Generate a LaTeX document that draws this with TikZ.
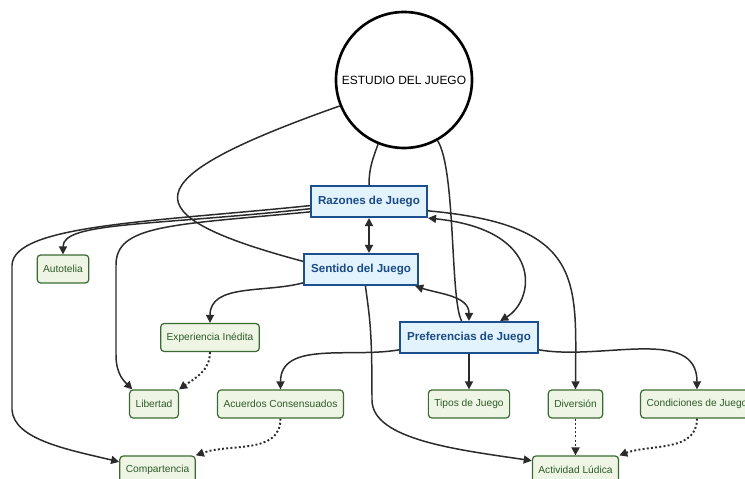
\documentclass[tikz,border=0pt]{standalone}
\usepackage{fontspec}
\setmainfont{Liberation Sans}
\usepackage{tikz}
\usetikzlibrary{arrows.meta,shapes}

\definecolor{razonBorde}{HTML}{1B4F8E}
\definecolor{razonFondo}{HTML}{E2F3FD}
\definecolor{razonTexto}{HTML}{1A4A88}
\definecolor{hojaBorde}{HTML}{3B6B32}
\definecolor{hojaFondo}{HTML}{EEF5E5}
\definecolor{hojaTexto}{HTML}{2E5B28}
\definecolor{flecha}{HTML}{2B2B2B}

\begin{document}
\begin{tikzpicture}[x=0.02cm,y=0.02cm,>={Triangle[length=4.6pt,width=4.6pt]},
                    line width=0.85pt,draw=flecha,
                    every node/.append style={font=\fontsize{5.8}{7}\selectfont}]
  \tikzstyle{raiz}=[circle,draw=black,fill=white,line width=1.5pt,minimum size=136*0.02cm,inner sep=0pt,
                    font=\fontsize{6.8}{8}\selectfont]
  \tikzstyle{clave}=[rectangle,draw=razonBorde,fill=razonFondo,text=razonTexto,line width=1.2pt,
                     font=\fontsize{6.6}{7.6}\selectfont\bfseries,minimum height=0.62cm,inner xsep=4pt]
  \tikzstyle{hoja}=[rectangle,rounded corners=2pt,draw=hojaBorde,fill=hojaFondo,text=hojaTexto,
                    line width=0.7pt,minimum height=0.56cm,inner xsep=3.4pt]
  \tikzstyle{punteada}=[dash pattern=on 1.1pt off 1.3pt,line width=1.1pt]

  \useasboundingbox (0,0) rectangle (745,-479);

  \node[raiz] (estudio) at (404,-80) {ESTUDIO DEL JUEGO};
  \node[clave] (razones)   at (369,-201.5) {Razones de Juego};
  \node[clave] (sentido)   at (361,-269.5) {Sentido del Juego};
  \node[clave] (prefer)    at (469,-337.5) {Preferencias de Juego};

  \node[hoja] (autotelia)   at (63,-269)    {Autotelia};
  \node[hoja] (experiencia) at (210,-337.5) {Experiencia Inédita};
  \node[hoja] (libertad)    at (154,-404)   {Libertad};
  \node[hoja] (acuerdos)    at (280.5,-404) {Acuerdos Consensuados};
  \node[hoja] (compart)     at (157.5,-470) {Compartencia};
  \node[hoja] (tipos)       at (469,-404)   {Tipos de Juego};
  \node[hoja] (diversion)   at (575.5,-404) {Diversión};
  \node[hoja] (condic)      at (697,-404)   {Condiciones de Juego};
  \node[hoja] (actividad)   at (575.5,-470) {Actividad Lúdica};

  % desde el estudio
  \draw (estudio.202) .. controls (130,-180) and (130,-215) .. (sentido.172);
  \draw (estudio.248) to[out=250,in=90] (razones.north);
  \draw (estudio.299) .. controls (456,-170) and (450,-300) .. (prefer.114);

  % razones
  \draw[<->] (razones.south) -- (razones.south |- sentido.north);
  \draw[<->] (razones.south east) .. controls (545,-230) and (535,-300) .. (prefer.28);
  \draw[->] (razones.-9) .. controls (585,-225) and (576,-280) .. (diversion.north);
  \draw[->] (razones.187) .. controls (150,-226) and (63,-222) .. (autotelia.north);
  \draw[->] (razones.184) .. controls (150,-222) and (14,-225) .. (12,-265) -- (12,-410)
            .. controls (14,-440) and (70,-450) .. (compart.168);
  \draw[->] (razones.190) .. controls (170,-225) and (116,-225) .. (116,-265) -- (116,-355)
            .. controls (116,-375) and (125,-382) .. (libertad.146);

  % sentido
  \draw[<->] (sentido.-17) to[out=-18,in=90] (prefer.north);
  \draw[->] (sentido.193) to[out=195,in=90] (experiencia.north);
  \draw[->] (sentido.-75) .. controls (370,-320) and (372,-330) .. (372,-400)
            .. controls (372,-440) and (460,-450) .. (actividad.168);

  % preferencias
  \draw[->] (prefer.190) to[out=190,in=90] (acuerdos.north);
  \draw[->] (prefer.south) -- (tipos.north);
  \draw[->] (prefer.-10) to[out=-10,in=90] (condic.north);

  % punteadas
  \draw[->,punteada] (experiencia.south) to[out=-90,in=35] (libertad.north east);
  \draw[->,punteada] (acuerdos.south) to[out=-90,in=20] (compart.north east);
  \draw[->,punteada] (diversion.south) -- (actividad.north);
  \draw[->,punteada] (condic.south) to[out=-90,in=20] (actividad.north east);
\end{tikzpicture}
\end{document}
